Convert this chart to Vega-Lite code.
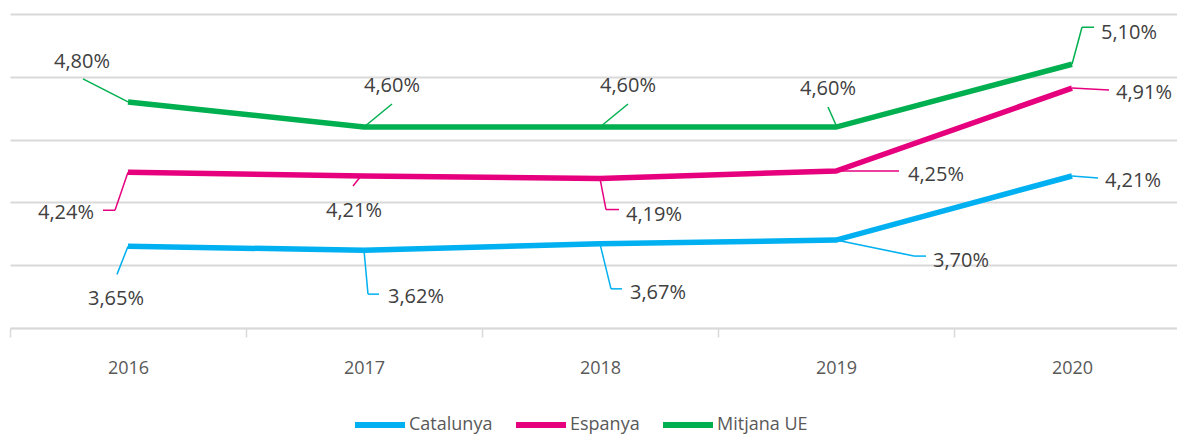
{
  "$schema": "https://vega.github.io/schema/vega-lite/v6.json",
  "autosize": "none",
  "width": 1180,
  "height": 314,
  "padding": {"left": 10, "top": 14, "right": 0, "bottom": 106},
  "background": "white",
  "data": {"values": [
    {"year": "2016", "series": "Catalunya", "value": 3.65},
    {"year": "2017", "series": "Catalunya", "value": 3.62},
    {"year": "2018", "series": "Catalunya", "value": 3.67},
    {"year": "2019", "series": "Catalunya", "value": 3.70},
    {"year": "2020", "series": "Catalunya", "value": 4.21},
    {"year": "2016", "series": "Espanya", "value": 4.24},
    {"year": "2017", "series": "Espanya", "value": 4.21},
    {"year": "2018", "series": "Espanya", "value": 4.19},
    {"year": "2019", "series": "Espanya", "value": 4.25},
    {"year": "2020", "series": "Espanya", "value": 4.91},
    {"year": "2016", "series": "Mitjana UE", "value": 4.80},
    {"year": "2017", "series": "Mitjana UE", "value": 4.60},
    {"year": "2018", "series": "Mitjana UE", "value": 4.60},
    {"year": "2019", "series": "Mitjana UE", "value": 4.60},
    {"year": "2020", "series": "Mitjana UE", "value": 5.10}
  ]},
  "transform": [
    {"calculate": "replace(format(datum.value, '.2f'), '.', ',') + '%'", "as": "label"},
    {"calculate": "(datum.series === 'Catalunya' ? 'B' : datum.series === 'Espanya' ? 'P' : 'G') + substring(datum.year, 2)", "as": "key"}
  ],
  "encoding": {
    "x": {
      "field": "year", "type": "ordinal",
      "scale": {"type": "point", "padding": 0.5},
      "axis": {
        "title": null, "labelAngle": 0, "grid": false,
        "domain": true, "domainColor": "#d9d9d9", "domainWidth": 1.5,
        "ticks": true, "tickColor": "#d9d9d9", "tickWidth": 1.5, "tickSize": 9,
        "tickOffset": -118, "labelOffset": 118,
        "labelPadding": 22, "labelFont": "Open Sans", "labelFontSize": 18, "labelColor": "#595959"
      }
    },
    "y": {
      "field": "value", "type": "quantitative",
      "scale": {"domain": [3, 5.5], "nice": false, "zero": false},
      "axis": {
        "title": null, "labels": false, "ticks": false, "domain": false,
        "values": [3, 3.5, 4, 4.5, 5, 5.5],
        "grid": true, "gridColor": "#d9d9d9", "gridWidth": 2
      }
    }
  },
  "layer": [
    {
      "mark": {"type": "line", "strokeWidth": 5.5, "strokeJoin": "miter"},
      "encoding": {
        "color": {
          "field": "series", "type": "nominal",
          "scale": {"domain": ["Catalunya", "Espanya", "Mitjana UE"], "range": ["#00b0f0", "#e6007e", "#00b050"]},
          "legend": {
            "title": null, "orient": "none", "direction": "horizontal",
            "legendX": 342, "legendY": 383,
            "symbolType": "stroke", "symbolSize": 2500, "symbolStrokeWidth": 6,
            "labelFont": "Open Sans", "labelFontSize": 18, "labelColor": "#595959",
            "labelOffset": 1, "columnPadding": 11
          }
        }
      }
    },
    {"transform": [{"filter": "datum.key === 'G16'"}], "mark": {"type": "rule", "xOffset": 0, "yOffset": 0, "x2Offset": -45, "y2Offset": -23},
     "encoding": {"x2": {"field": "year"}, "y2": {"field": "value"}, "color": {"field": "series", "type": "nominal", "legend": null}}},
    {"transform": [{"filter": "datum.key === 'G17' || datum.key === 'G18'"}], "mark": {"type": "rule", "xOffset": 0, "yOffset": 0, "x2Offset": 28, "y2Offset": -23},
     "encoding": {"x2": {"field": "year"}, "y2": {"field": "value"}, "color": {"field": "series", "type": "nominal", "legend": null}}},
    {"transform": [{"filter": "datum.key === 'G19'"}], "mark": {"type": "rule", "xOffset": 0, "yOffset": -2, "x2Offset": -8, "y2Offset": -20},
     "encoding": {"x2": {"field": "year"}, "y2": {"field": "value"}, "color": {"field": "series", "type": "nominal", "legend": null}}},
    {"transform": [{"filter": "datum.key === 'G20'"}], "mark": {"type": "rule", "xOffset": 0, "yOffset": 0, "x2Offset": 10, "y2Offset": -37},
     "encoding": {"x2": {"field": "year"}, "y2": {"field": "value"}, "color": {"field": "series", "type": "nominal", "legend": null}}},
    {"transform": [{"filter": "datum.key === 'G20'"}], "mark": {"type": "rule", "xOffset": 10, "yOffset": -37, "x2Offset": 22, "y2Offset": -37},
     "encoding": {"x2": {"field": "year"}, "y2": {"field": "value"}, "color": {"field": "series", "type": "nominal", "legend": null}}},
    {"transform": [{"filter": "datum.key === 'P16'"}], "mark": {"type": "rule", "xOffset": 0, "yOffset": 0, "x2Offset": -13, "y2Offset": 38},
     "encoding": {"x2": {"field": "year"}, "y2": {"field": "value"}, "color": {"field": "series", "type": "nominal", "legend": null}}},
    {"transform": [{"filter": "datum.key === 'P16'"}], "mark": {"type": "rule", "xOffset": -13, "yOffset": 38, "x2Offset": -25, "y2Offset": 38},
     "encoding": {"x2": {"field": "year"}, "y2": {"field": "value"}, "color": {"field": "series", "type": "nominal", "legend": null}}},
    {"transform": [{"filter": "datum.key === 'P17'"}], "mark": {"type": "rule", "xOffset": -3, "yOffset": 0, "x2Offset": -11, "y2Offset": 10},
     "encoding": {"x2": {"field": "year"}, "y2": {"field": "value"}, "color": {"field": "series", "type": "nominal", "legend": null}}},
    {"transform": [{"filter": "datum.key === 'P18'"}], "mark": {"type": "rule", "xOffset": 0, "yOffset": 0, "x2Offset": 6, "y2Offset": 31},
     "encoding": {"x2": {"field": "year"}, "y2": {"field": "value"}, "color": {"field": "series", "type": "nominal", "legend": null}}},
    {"transform": [{"filter": "datum.key === 'P18'"}], "mark": {"type": "rule", "xOffset": 6, "yOffset": 31, "x2Offset": 19, "y2Offset": 31},
     "encoding": {"x2": {"field": "year"}, "y2": {"field": "value"}, "color": {"field": "series", "type": "nominal", "legend": null}}},
    {"transform": [{"filter": "datum.key === 'P19'"}], "mark": {"type": "rule", "xOffset": 0, "yOffset": 0, "x2Offset": 63, "y2Offset": 0},
     "encoding": {"x2": {"field": "year"}, "y2": {"field": "value"}, "color": {"field": "series", "type": "nominal", "legend": null}}},
    {"transform": [{"filter": "datum.key === 'P20'"}], "mark": {"type": "rule", "xOffset": 0, "yOffset": 0, "x2Offset": 37, "y2Offset": 2},
     "encoding": {"x2": {"field": "year"}, "y2": {"field": "value"}, "color": {"field": "series", "type": "nominal", "legend": null}}},
    {"transform": [{"filter": "datum.key === 'B16'"}], "mark": {"type": "rule", "xOffset": 0, "yOffset": 0, "x2Offset": -11, "y2Offset": 28},
     "encoding": {"x2": {"field": "year"}, "y2": {"field": "value"}, "color": {"field": "series", "type": "nominal", "legend": null}}},
    {"transform": [{"filter": "datum.key === 'B17'"}], "mark": {"type": "rule", "xOffset": 0, "yOffset": 0, "x2Offset": 4, "y2Offset": 44},
     "encoding": {"x2": {"field": "year"}, "y2": {"field": "value"}, "color": {"field": "series", "type": "nominal", "legend": null}}},
    {"transform": [{"filter": "datum.key === 'B17'"}], "mark": {"type": "rule", "xOffset": 4, "yOffset": 44, "x2Offset": 15, "y2Offset": 44},
     "encoding": {"x2": {"field": "year"}, "y2": {"field": "value"}, "color": {"field": "series", "type": "nominal", "legend": null}}},
    {"transform": [{"filter": "datum.key === 'B18'"}], "mark": {"type": "rule", "xOffset": 0, "yOffset": 0, "x2Offset": 11, "y2Offset": 45},
     "encoding": {"x2": {"field": "year"}, "y2": {"field": "value"}, "color": {"field": "series", "type": "nominal", "legend": null}}},
    {"transform": [{"filter": "datum.key === 'B18'"}], "mark": {"type": "rule", "xOffset": 11, "yOffset": 45, "x2Offset": 22, "y2Offset": 45},
     "encoding": {"x2": {"field": "year"}, "y2": {"field": "value"}, "color": {"field": "series", "type": "nominal", "legend": null}}},
    {"transform": [{"filter": "datum.key === 'B19'"}], "mark": {"type": "rule", "xOffset": 0, "yOffset": 0, "x2Offset": 78, "y2Offset": 16},
     "encoding": {"x2": {"field": "year"}, "y2": {"field": "value"}, "color": {"field": "series", "type": "nominal", "legend": null}}},
    {"transform": [{"filter": "datum.key === 'B19'"}], "mark": {"type": "rule", "xOffset": 78, "yOffset": 16, "x2Offset": 90, "y2Offset": 16},
     "encoding": {"x2": {"field": "year"}, "y2": {"field": "value"}, "color": {"field": "series", "type": "nominal", "legend": null}}},
    {"transform": [{"filter": "datum.key === 'B20'"}], "mark": {"type": "rule", "xOffset": 0, "yOffset": 0, "x2Offset": 26, "y2Offset": 2},
     "encoding": {"x2": {"field": "year"}, "y2": {"field": "value"}, "color": {"field": "series", "type": "nominal", "legend": null}}},

    {"transform": [{"filter": "datum.key === 'G16'"}], "mark": {"type": "text", "dx": -46, "dy": -40}, "encoding": {"text": {"field": "label"}}},
    {"transform": [{"filter": "datum.key === 'G17' || datum.key === 'G18'"}], "mark": {"type": "text", "dx": 28, "dy": -41}, "encoding": {"text": {"field": "label"}}},
    {"transform": [{"filter": "datum.key === 'G19'"}], "mark": {"type": "text", "dx": -8, "dy": -38}, "encoding": {"text": {"field": "label"}}},
    {"transform": [{"filter": "datum.key === 'G20'"}], "mark": {"type": "text", "dx": 57, "dy": -31}, "encoding": {"text": {"field": "label"}}},
    {"transform": [{"filter": "datum.key === 'P16'"}], "mark": {"type": "text", "dx": -62, "dy": 41}, "encoding": {"text": {"field": "label"}}},
    {"transform": [{"filter": "datum.key === 'P17'"}], "mark": {"type": "text", "dx": -10, "dy": 35}, "encoding": {"text": {"field": "label"}}},
    {"transform": [{"filter": "datum.key === 'P18'"}], "mark": {"type": "text", "dx": 54, "dy": 36}, "encoding": {"text": {"field": "label"}}},
    {"transform": [{"filter": "datum.key === 'P19'"}], "mark": {"type": "text", "dx": 100, "dy": 4}, "encoding": {"text": {"field": "label"}}},
    {"transform": [{"filter": "datum.key === 'P20'"}], "mark": {"type": "text", "dx": 72, "dy": 5}, "encoding": {"text": {"field": "label"}}},
    {"transform": [{"filter": "datum.key === 'B16'"}], "mark": {"type": "text", "dx": -12, "dy": 53}, "encoding": {"text": {"field": "label"}}},
    {"transform": [{"filter": "datum.key === 'B17'"}], "mark": {"type": "text", "dx": 52, "dy": 47}, "encoding": {"text": {"field": "label"}}},
    {"transform": [{"filter": "datum.key === 'B18'"}], "mark": {"type": "text", "dx": 58, "dy": 49}, "encoding": {"text": {"field": "label"}}},
    {"transform": [{"filter": "datum.key === 'B19'"}], "mark": {"type": "text", "dx": 125, "dy": 21}, "encoding": {"text": {"field": "label"}}},
    {"transform": [{"filter": "datum.key === 'B20'"}], "mark": {"type": "text", "dx": 61, "dy": 5}, "encoding": {"text": {"field": "label"}}}
  ],
  "config": {
    "view": {"stroke": null},
    "text": {"font": "Open Sans", "fontSize": 20, "color": "#404040", "align": "center", "baseline": "middle"},
    "rule": {"strokeWidth": 1.5}
  }
}
